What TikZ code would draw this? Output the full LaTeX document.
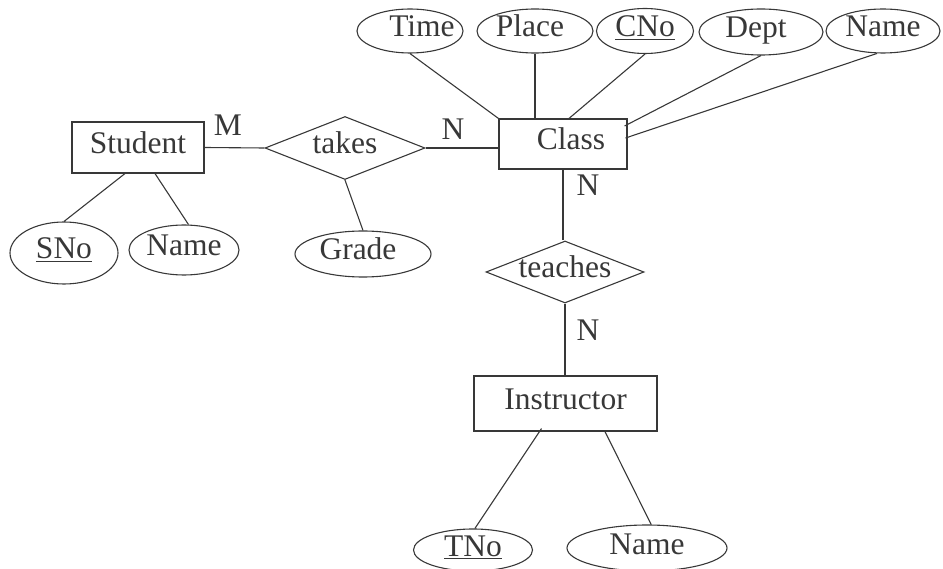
\documentclass[tikz,border=0pt]{standalone}
\usepackage{fontspec}
\setmainfont{Liberation Serif}
\usetikzlibrary{shapes.geometric,calc}
\definecolor{ink}{HTML}{383838}
\newcommand{\shft}[2]{\kern#1pt #2\kern-#1pt}
\begin{document}
\begin{tikzpicture}[x=1pt,y=-1pt,
  every node/.style={font=\fontsize{31.5pt}{36pt}\selectfont, text=ink, inner sep=0pt, text height=18pt, text depth=6pt},
  ent/.style={draw=ink, line width=1.1pt, rectangle},
  attr/.style={draw=ink, line width=1.1pt, ellipse},
  rel/.style={draw=ink, line width=1.1pt, diamond},
  conn/.style={draw=ink, line width=1.1pt},
  card/.style={}]
\useasboundingbox (0,0) rectangle (943,569);
\clip (0,0) rectangle (943,569);
% entities
\node[ent, minimum width=132, minimum height=51] (student) at (138,147.5) {Student};
\node[ent, minimum width=128, minimum height=50] (class) at (563,144) {\shft{8}{Class}};
\node[ent, minimum width=183, minimum height=55] (instr) at (565.5,403.5) {Instructor};
% relationships
\node[rel, minimum width=160, minimum height=63, aspect=2.54] (takes) at (345,148) {takes};
\node[rel, minimum width=158, minimum height=62, aspect=2.54] (teaches) at (565,272) {teaches};
% attributes
\node[attr, minimum width=106, minimum height=44] (time) at (410,31) {\shft{12}{Time}};
\node[attr, minimum width=116, minimum height=44] (place) at (535,31) {\shft{-5}{Place}};
\node[attr, minimum width=97, minimum height=45] (cno) at (645,31) {\underline{CNo}};
\node[attr, minimum width=124, minimum height=46] (dept) at (761,32) {\shft{-5}{Dept}};
\node[attr, minimum width=114, minimum height=44] (cname) at (883,31) {Name};
\node[attr, minimum width=108, minimum height=62] (sno) at (64,253) {\underline{SNo}};
\node[attr, minimum width=110, minimum height=50] (sname) at (184,250) {Name};
\node[attr, minimum width=136, minimum height=46] (grade) at (363,254) {\shft{-5}{Grade}};
\node[attr, minimum width=119, minimum height=42] (tno) at (473,550) {\underline{TNo}};
\node[attr, minimum width=160, minimum height=46] (iname) at (647,548) {Name};
% cardinalities
\node[card] (m1) at (228,130) {M};
\node[card] (n1) at (453,134) {N};
\node[card] (n2) at (588,190) {N};
\node[card] (n3) at (588,335) {N};
% connectors
\draw[conn] (student.east) -- (takes.west);
\draw[conn] (takes.east) -- (takes.east -| class.west);
\draw[conn] (takes.south) -- (grade.north);
\draw[conn] ($(student.south)+(-13,0)$) -- (sno.north);
\draw[conn] ($(student.south)+(17,0)$) -- (sname.80);
\draw[conn] (time.south) -- (class.north west);
\draw[conn] (place.south) -- (place.south |- class.north);
\draw[conn] (cno.south) -- ($(class.north)+(6,0)$);
\draw[conn] (dept.south) -- ($(class.east)+(-3,-18)$);
\draw[conn] (cname.255) -- ($(class.east)+(-2,-6)$);
\draw[conn] (class.south) -- (class.south |- teaches.north);
\draw[conn] (teaches.south) -- (teaches.south |- instr.north);
\draw[conn] ($(instr.south)+(-24,-3)$) -- (tno.85);
\draw[conn] ($(instr.south)+(39,-1)$) -- (iname.80);
\end{tikzpicture}
\end{document}
